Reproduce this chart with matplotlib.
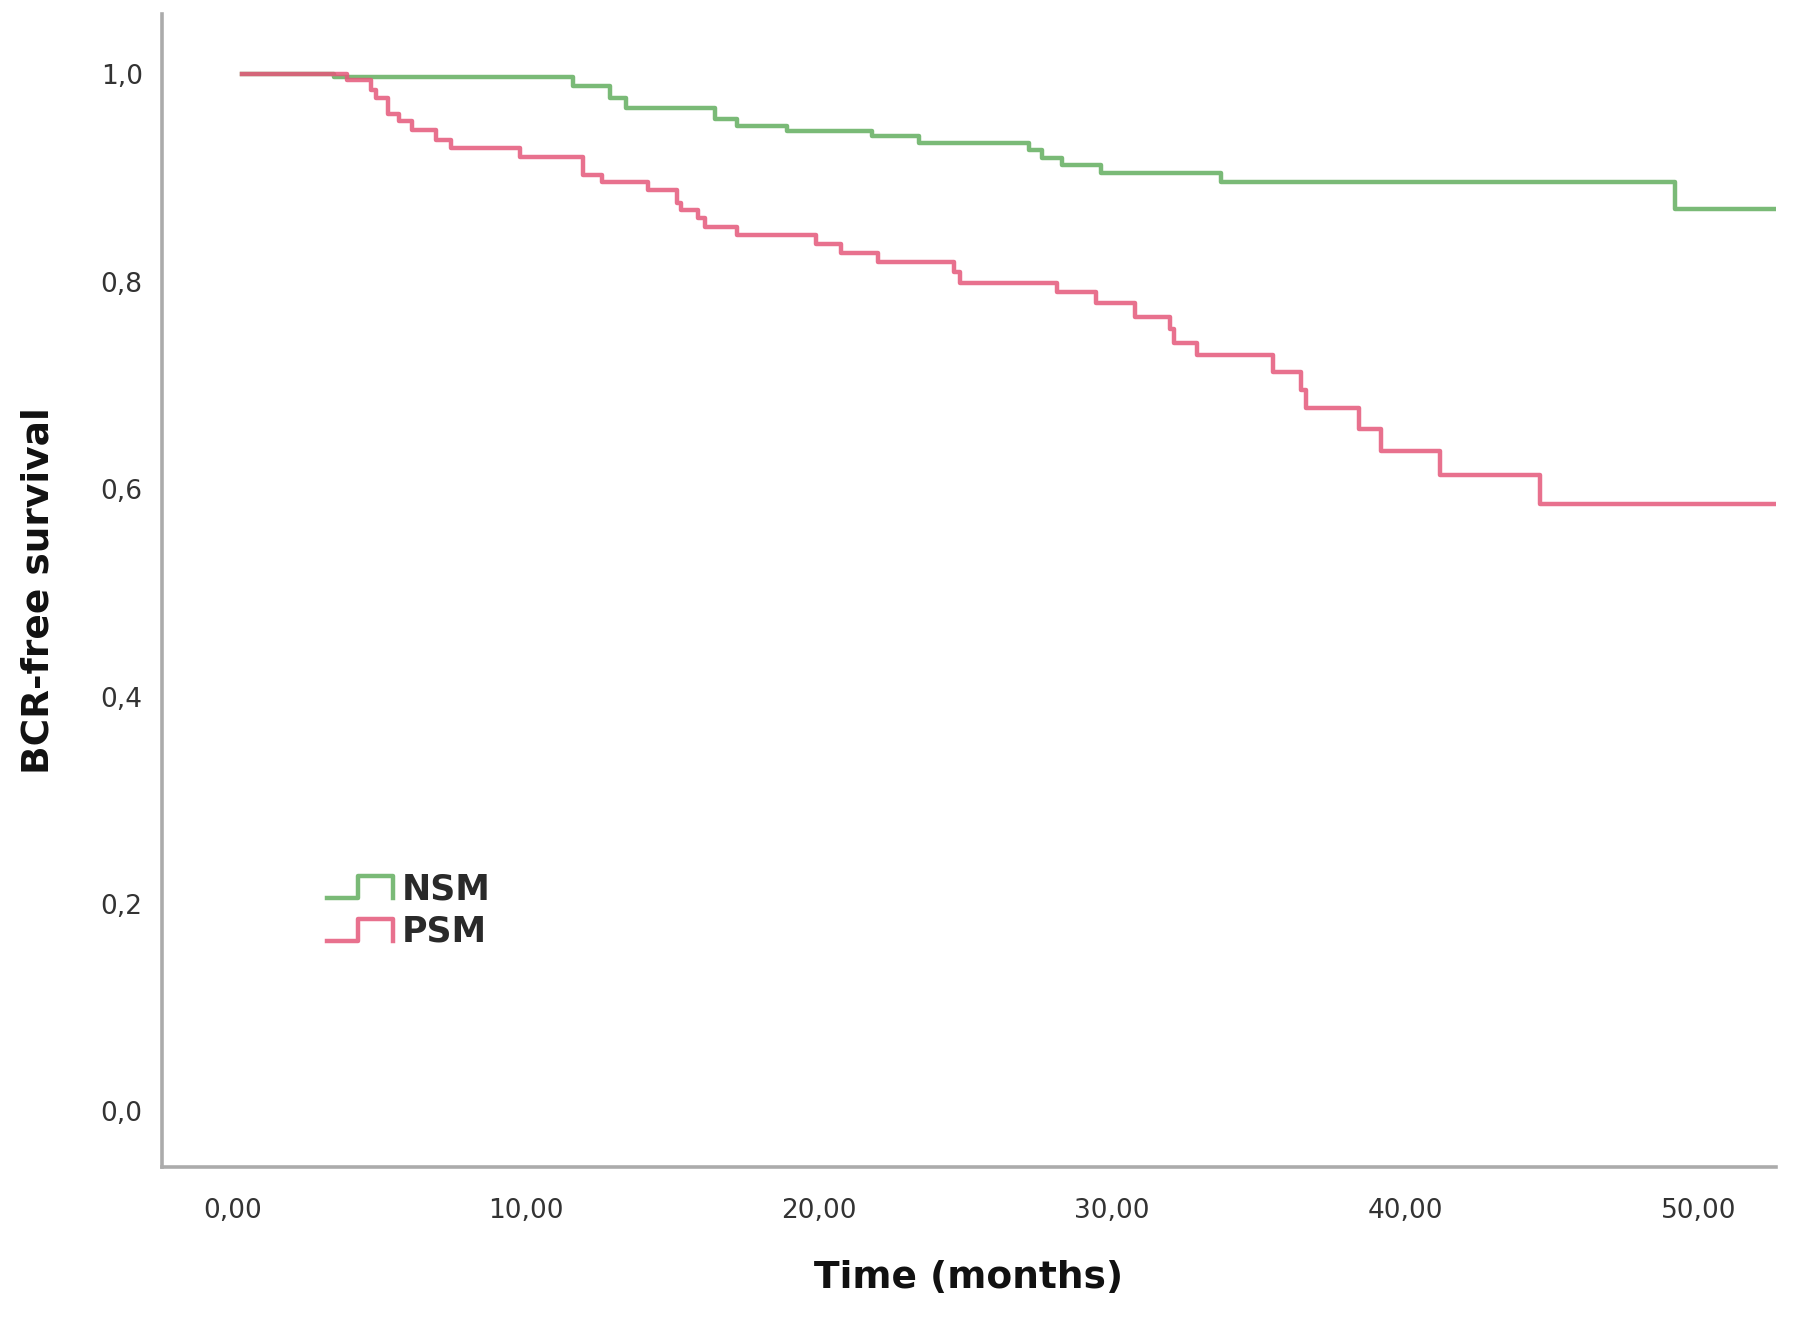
import matplotlib
matplotlib.use("Agg")
import matplotlib.pyplot as plt
from matplotlib.legend_handler import HandlerBase
from matplotlib.lines import Line2D

# Kaplan-Meier step data (time in months, survival proportion)
nsm_time = [0.3, 3.46, 11.6, 12.86, 13.4, 16.44, 17.2, 18.9, 21.8, 23.4, 27.15, 27.6,
            28.3, 29.6, 33.7, 49.2, 52.7]
nsm_surv = [1.0, 0.997, 0.989, 0.977, 0.967, 0.957, 0.950, 0.9455, 0.940, 0.9336, 0.927,
            0.919, 0.912, 0.905, 0.896, 0.870, 0.870]

psm_time = [0.3, 3.91, 4.70, 4.89, 5.28, 5.68, 6.13, 6.92, 7.44, 9.79, 11.94, 12.59, 14.16,
            15.14, 15.3, 15.86, 16.1, 17.2, 19.9, 20.75, 22.0, 24.6, 24.8, 28.1, 29.45, 30.76,
            31.96, 32.1, 32.9, 35.47, 36.44, 36.6, 38.43, 39.18, 41.17, 44.58, 52.7]
psm_surv = [1.0, 0.994, 0.985, 0.977, 0.962, 0.9545, 0.9465, 0.937, 0.929, 0.920, 0.903,
            0.896, 0.888, 0.876, 0.869, 0.861, 0.853, 0.845, 0.836, 0.828, 0.8185, 0.809,
            0.799, 0.790, 0.779, 0.766, 0.754, 0.741, 0.7295, 0.7125, 0.696, 0.678, 0.658,
            0.637, 0.614, 0.586, 0.586]

groups = ['NSM', 'PSM']
x_ticks = [0, 10, 20, 30, 40, 50]
x_tick_labels = ['0,00', '10,00', '20,00', '30,00', '40,00', '50,00']
y_ticks = [0.0, 0.2, 0.4, 0.6, 0.8, 1.0]
y_tick_labels = ['0,0', '0,2', '0,4', '0,6', '0,8', '1,0']

green = '#6cb368'
red = '#e5587a'


class StepHandler(HandlerBase):
    # small step-shaped legend key like SPSS draws
    def create_artists(self, legend, orig_handle, xdescent, ydescent, width, height,
                       fontsize, trans):
        lo = -ydescent + height * 0.05
        hi = -ydescent + height * 0.95
        xs = [-xdescent, -xdescent + 0.47 * width, -xdescent + 0.47 * width,
              -xdescent + width, -xdescent + width]
        ys = [lo, lo, hi, hi, lo]
        ln = Line2D(xs, ys, color=orig_handle.get_color(), lw=orig_handle.get_linewidth(),
                    alpha=orig_handle.get_alpha(), transform=trans)
        return [ln]


fig = plt.figure(figsize=(17.97, 13.24), dpi=100)
ax = fig.add_axes([0.0902, 0.1186, 0.8981, 0.8708])

l1, = ax.step(nsm_time, nsm_surv, where='post', color=green, lw=3.2, alpha=0.9, label=groups[0])
l2, = ax.step(psm_time, psm_surv, where='post', color=red, lw=3.2, alpha=0.85, label=groups[1])

ax.set_xlim(-2.41, 52.64)
ax.set_ylim(-0.0535, 1.058)

for s in ['top', 'right']:
    ax.spines[s].set_visible(False)
for s in ['left', 'bottom']:
    ax.spines[s].set_color('#ababab')
    ax.spines[s].set_linewidth(2.6)

ax.set_xticks(x_ticks)
ax.set_xticklabels(x_tick_labels)
ax.set_yticks(y_ticks)
ax.set_yticklabels(y_tick_labels)
ax.tick_params(axis='both', length=0, labelsize=19, colors='#333333')
ax.tick_params(axis='x', pad=22)
ax.tick_params(axis='y', pad=14)

ax.set_xlabel('Time (months)', fontsize=27, fontweight='bold', color='#111111')
ax.set_ylabel('BCR-free survival', fontsize=27, fontweight='bold', color='#111111')
ax.xaxis.set_label_coords(0.5, -0.0963)
ax.xaxis.label.set_va('center')
ax.yaxis.set_label_coords(-0.0768, 0.5)
ax.yaxis.label.set_va('center')

leg = ax.legend(handles=[l1, l2], loc='center left', bbox_to_anchor=(0.102, 0.2225),
                frameon=False, fontsize=25, handlelength=1.9, handletextpad=0.25,
                labelspacing=0.25, borderpad=0, borderaxespad=0,
                handler_map={Line2D: StepHandler()},
                prop={'weight': 'bold', 'size': 25})
for t in leg.get_texts():
    t.set_color('#2a2a2a')

fig.savefig('out.png', dpi=100)
